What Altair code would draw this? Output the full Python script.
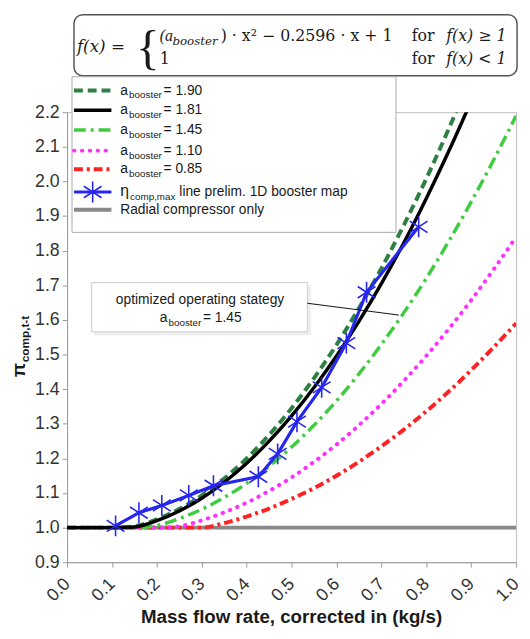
import altair as alt
import pandas as pd

# ---------------- data ----------------
X_GRID = [0.00, 0.05, 0.10, 0.15, 0.20, 0.25, 0.30, 0.35, 0.40, 0.45, 0.50,
          0.55, 0.60, 0.65, 0.70, 0.75, 0.80, 0.85, 0.90, 0.95, 1.00]

A190 = [1.0, 1.0, 1.0, 1.004, 1.024, 1.054, 1.093, 1.142, 1.200, 1.268, 1.345,
        1.432, 1.528, 1.634, 1.749, 1.874, 2.008, 2.152, 2.305]
A181 = [1.0, 1.0, 1.0, 1.002, 1.020, 1.048, 1.085, 1.131, 1.186, 1.250, 1.323,
        1.405, 1.496, 1.596, 1.705, 1.823, 1.951, 2.087, 2.232]
A145 = [1.0, 1.0, 1.0, 1.0, 1.006, 1.026, 1.053, 1.087, 1.128, 1.177, 1.233,
        1.296, 1.366, 1.444, 1.529, 1.621, 1.720, 1.827, 1.941, 2.062, 2.190]
A110 = [1.0, 1.0, 1.0, 1.0, 1.0, 1.004, 1.021, 1.044, 1.072, 1.106, 1.145,
        1.190, 1.240, 1.296, 1.357, 1.424, 1.496, 1.574, 1.657, 1.746, 1.840]
A085 = [1.0, 1.0, 1.0, 1.0, 1.0, 1.0, 1.0, 1.013, 1.032, 1.055, 1.083,
        1.114, 1.150, 1.190, 1.235, 1.283, 1.336, 1.393, 1.455, 1.521, 1.590]

RADIAL_X = [0.0, 1.0]
RADIAL_Y = [1.0, 1.0]

ETA_X = [0.108, 0.160, 0.211, 0.271, 0.326, 0.426, 0.469, 0.512, 0.567, 0.622, 0.667, 0.783]
ETA_Y = [1.005, 1.043, 1.064, 1.093, 1.121, 1.147, 1.213, 1.306, 1.405, 1.533, 1.680, 1.869]

X_TICKS = [0.0, 0.1, 0.2, 0.3, 0.4, 0.5, 0.6, 0.7, 0.8, 0.9, 1.0]
Y_TICKS = [0.9, 1.0, 1.1, 1.2, 1.3, 1.4, 1.5, 1.6, 1.7, 1.8, 1.9, 2.0, 2.1, 2.2]

LEG_VALUES = ["1.90", "1.81", "1.45", "1.10", "0.85"]

# ---------------- styles ----------------
SANS = "Liberation Sans"
SERIF = "DejaVu Serif"
BLUE = "#2626ee"
STAR = "M0,-1L0,1M-0.85,-0.55L0.85,0.55M-0.85,0.55L0.85,-0.55"

xs = alt.Scale(domain=[0, 1], nice=False, zero=False)
ys = alt.Scale(domain=[0.9, 2.2], nice=False, zero=False)

X_AXIS = alt.Axis(values=X_TICKS, format=".1f", title=None, labelOverlap=False,
                  labelAngle=315, labelAlign="right", labelBaseline="middle",
                  labelPadding=14, labelOffset=0, labelFontSize=18)
Y_AXIS = alt.Axis(values=Y_TICKS, format=".1f", title=None, labelOverlap=False,
                  labelPadding=3, labelFontSize=18)


def enc_xy():
    return dict(x=alt.X("x:Q", scale=xs, axis=X_AXIS), y=alt.Y("y:Q", scale=ys, axis=Y_AXIS))


def curve(xv, yv, color, width, dash=None, cap="butt"):
    df = pd.DataFrame({"x": xv[:len(yv)], "y": yv})
    kw = dict(color=color, strokeWidth=width, clip=True, interpolate="monotone", strokeCap=cap)
    if dash:
        kw["strokeDash"] = dash
    return alt.Chart(df).mark_line(**kw).encode(**enc_xy())


def txt(s, x, y, size=14, font=SANS, align="left", style="normal", weight="normal",
        angle=0, color="#1a1a1a", baseline="middle"):
    return alt.Chart(pd.DataFrame({"t": [s]})).mark_text(
        align=align, baseline=baseline, fontSize=size, font=font, fontStyle=style,
        fontWeight=weight, angle=angle, color=color
    ).encode(x=alt.value(x), y=alt.value(y), text="t:N")


def box(x1, x2, y1, y2, stroke="#999", fill="white", radius=0, sw=1.0):
    return alt.Chart(pd.DataFrame({"a": [0]})).mark_rect(
        fill=fill, stroke=stroke, strokeWidth=sw, cornerRadius=radius
    ).encode(x=alt.value(x1), x2=alt.value(x2), y=alt.value(y1), y2=alt.value(y2))


def seg(x1, x2, y1, y2, color, width, dash=None, cap="butt"):
    kw = dict(color=color, strokeWidth=width, strokeCap=cap)
    if dash:
        kw["strokeDash"] = dash
    return alt.Chart(pd.DataFrame({"a": [0]})).mark_rule(**kw).encode(
        x=alt.value(x1), x2=alt.value(x2), y=alt.value(y1), y2=alt.value(y2))


STYLES = [
    ("#2e7f42", 4, [9, 5], "butt"),
    ("#000000", 3.5, None, "butt"),
    ("#3fcc3f", 3.5, [12, 5, 3, 5], "butt"),
    ("#ff30ff", 4, [0.5, 7.5], "round"),
    ("#ff2222", 4, [9, 4, 3, 4], "butt"),
]

layers = []
# radial compressor only (beneath)
layers.append(curve(RADIAL_X, RADIAL_Y, "#888888", 4))
for yv, st in [(A085, STYLES[4]), (A110, STYLES[3]), (A145, STYLES[2]),
               (A190, STYLES[0]), (A181, STYLES[1])]:
    layers.append(curve(X_GRID, yv, st[0], st[1], st[2], st[3]))

eta_df = pd.DataFrame({"x": ETA_X, "y": ETA_Y})
layers.append(alt.Chart(eta_df).mark_line(color=BLUE, strokeWidth=3.2, clip=True).encode(**enc_xy()))
layers.append(alt.Chart(eta_df).mark_point(shape=STAR, size=450, stroke=BLUE, strokeWidth=1.6,
                                            filled=False, opacity=1).encode(**enc_xy()))

# ---------------- formula box ----------------
layers.append(box(7, 457, -99, -37, stroke="#555", radius=9, sw=1.5))
layers.append(txt("f(x) =", 10, -66, size=17, font=SERIF, style="italic"))
layers.append(txt("{", 82, -64, size=50, font="Liberation Serif", align="center"))
layers.append(txt("(a", 94, -77, size=16, font="Liberation Serif", style="italic"))
layers.append(txt("booster", 107, -72, size=12, font=SERIF, style="italic"))
layers.append(txt(") · x² − 0.2596 · x + 1", 156, -77, size=16, font=SERIF))
layers.append(txt("1", 94, -54, size=16, font=SERIF))
for yy, rel in [(-77, "≥"), (-54, "<")]:
    layers.append(txt("for", 350, yy, size=16, font=SERIF))
    layers.append(txt("f(x) " + rel + " 1", 385, yy, size=16, font=SERIF, style="italic"))

# ---------------- legend ----------------
layers.append(box(5, 334, -36, 122, stroke="#aaaaaa"))
rows = [-22, -2, 18, 39, 58]
for i, (ry, st) in enumerate(zip(rows, STYLES)):
    layers.append(seg(7, 45, ry, ry, st[0], st[1], st[2], st[3]))
    layers.append(txt("a", 54, ry, size=14))
    layers.append(txt("booster", 63, ry + 5, size=10))
    layers.append(txt("= " + LEG_VALUES[i], 98, ry, size=14))
layers.append(seg(7, 45, 81, 81, BLUE, 3))
layers.append(alt.Chart(pd.DataFrame({"a": [0]})).mark_point(
    shape=STAR, size=450, stroke=BLUE, strokeWidth=1.6, filled=False, opacity=1
).encode(x=alt.value(26), y=alt.value(81)))
layers.append(txt("η", 54, 80, size=16))
layers.append(txt("comp,max", 64, 86, size=10))
layers.append(txt("line prelim. 1D booster map", 114, 81, size=14))
layers.append(seg(7, 45, 99, 99, "#888888", 4))
layers.append(txt("Radial compressor only", 54, 99, size=14))

# ---------------- annotation ----------------
layers.append(box(28, 247, 176, 226, stroke="#eeeeee", fill="#eeeeee"))
layers.append(box(25, 244, 173, 223, stroke="#cccccc"))
layers.append(txt("optimized operating stategy", 135, 191, size=14, align="center"))
layers.append(txt("a", 94, 209, size=14))
layers.append(txt("booster", 103, 214, size=10))
layers.append(txt("= 1.45", 138, 209, size=14))
layers.append(seg(244, 337, 194, 206, "#111111", 1))

# ---------------- axis titles ----------------
layers.append(txt("Mass flow rate, corrected in (kg/s)", 228, 513, size=19, weight="bold",
                  align="center"))
layers.append(txt("π", -49, 262, size=19, weight="bold", angle=270, align="center"))
layers.append(txt("comp,t-t", -43, 254, size=12, weight="bold", angle=270, align="left"))

chart = alt.layer(*layers).properties(
    width=456, height=457,
    autosize=alt.AutoSizeParams(type="none"),
    padding={"left": 60, "top": 101, "right": 6, "bottom": 65},
).configure_view(stroke="#bbbbbb").configure_axis(
    grid=False, labelFont=SANS, labelFontSize=18, labelColor="#333333",
    domainColor="#999999", tickColor="#999999", tickSize=5, labelOverlap=False,
)

chart.save("out.html", embed_options={"renderer": "svg", "actions": False})
